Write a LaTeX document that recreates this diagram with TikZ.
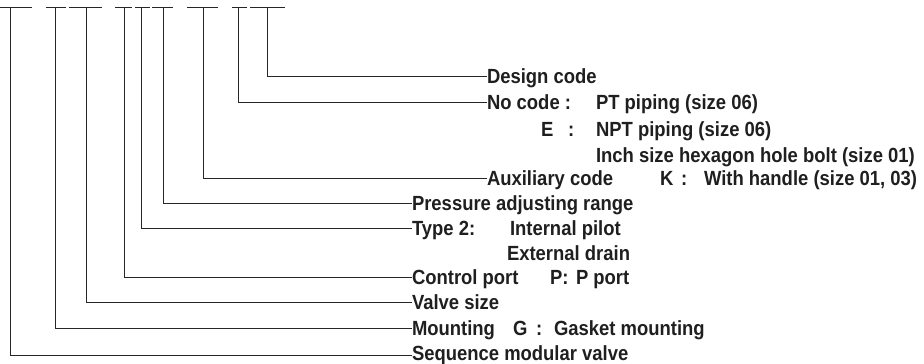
\documentclass[tikz,border=0pt]{standalone}
\usepackage{fontspec}
\setmainfont{Liberation Sans}[FakeStretch=0.9]
\begin{document}
\begin{tikzpicture}[x=1pt,y=-1pt,
  lead/.style={line width=1pt,draw=black!85},
  lbl/.style={inner sep=0pt,outer sep=0pt,anchor=west,text height=14.7pt,text depth=0pt,
    font=\fontsize{20.5}{25}\selectfont\bfseries,text=black!88}]
\useasboundingbox (0,0) rectangle (924,364);
% top bars
\foreach \a/\b/\n in {0/32/1,46/66/2,69/102/3,115/132/4,135/150/5,152/173/6,187/218/7,232/247/8,250/285/9}{
  \coordinate (bl\n) at (\a,7.5); \coordinate (br\n) at (\b,7.5);
  \draw[lead] (bl\n) -- (br\n);
}
\foreach \x/\n in {10/1,55/2,86/3,124/4,141/5,163/6,203/7,238/8,267/9}{
  \coordinate (t\n) at (\x,7.5);
}
% labels with leaders
\node[lbl] (l9) at (487,76) {Design code};
\node[lbl] (l8) at (487,102) {No code :};
\node[lbl] (l7) at (487,178) {Auxiliary code};
\node[lbl] (l6) at (412,203) {Pressure adjusting range};
\node[lbl] (l5) at (412,228) {Type 2:};
\node[lbl] (l4) at (412,277) {Control port};
\node[lbl] (l3) at (412,302) {Valve size};
\node[lbl] (l2) at (412,328) {Mounting};
\node[lbl] (l1) at (412,353) {Sequence modular valve};
% other texts
\node[lbl] (a8) at (596,102) {PT piping (size 06)};
\node[lbl] (e1) at (541,129) {E};
\node[lbl] (e2) at (568,129) {:};
\node[lbl] (e3) at (596,129) {NPT piping (size 06)};
\node[lbl] (e4) at (596,155) {Inch size hexagon hole bolt (size 01)};
\node[lbl] (k1) at (660,178) {K};
\node[lbl] (k2) at (681,178) {:};
\node[lbl] (k3) at (704,178) {With handle (size 01, 03)};
\node[lbl] (i1) at (510,228) {Internal pilot};
\node[lbl] (i2) at (507,253) {External drain};
\node[lbl] (p1) at (550,277) {P:};
\node[lbl] (p2) at (576,277) {P port};
\node[lbl] (g1) at (513,328) {G};
\node[lbl] (g2) at (536,328) {:};
\node[lbl] (g3) at (554,328) {Gasket mounting};
% leaders
\foreach \n in {2,...,9}{
  \draw[lead] (t\n) |- (l\n.west);
}
\draw[lead] (t1) |- ([yshift=-2pt]l1.west);
\end{tikzpicture}
\end{document}
